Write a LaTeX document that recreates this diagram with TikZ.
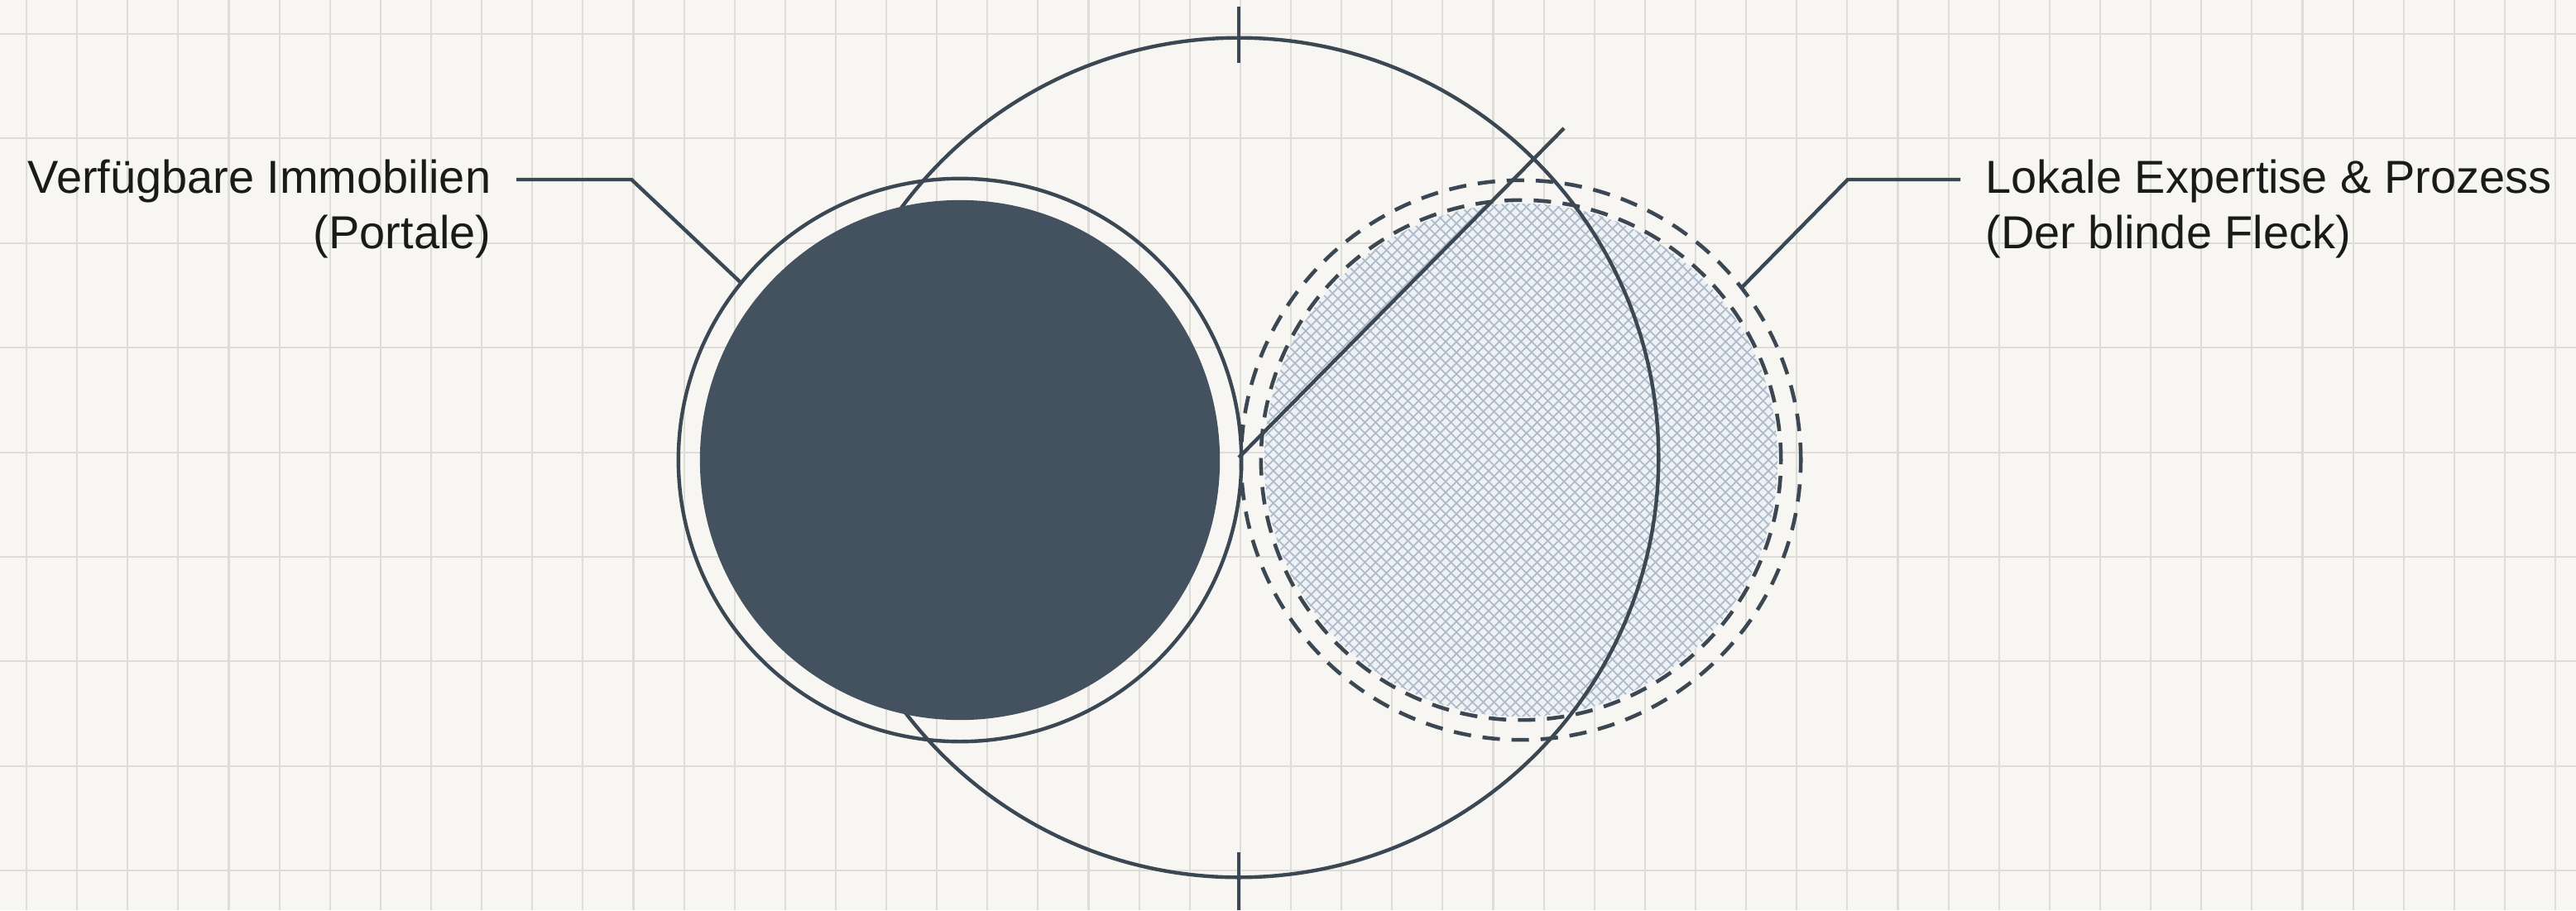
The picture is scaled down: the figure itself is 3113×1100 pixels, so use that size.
\documentclass[tikz,border=0pt]{standalone}
\usepackage{fontspec}
\setmainfont{Liberation Sans}
\usepackage{xcolor}
\usetikzlibrary{positioning,shapes.geometric}

\definecolor{paper}{HTML}{F7F6F2}
\definecolor{gridgrey}{HTML}{DEDCD7}
\definecolor{slate}{HTML}{3B4753}
\definecolor{slatefill}{HTML}{44525F}
\definecolor{hatchbg}{HTML}{EEF2F6}
\definecolor{hatchblue}{HTML}{AEBBC9}
\definecolor{ink}{HTML}{1A1A1A}

\begin{document}
\begin{tikzpicture}[x=0.01cm,y=-0.01cm,
gridline/.style={draw=gridgrey,line width=0.6pt},
ring/.style={circle,draw=slate,line width=1.25pt,inner sep=0pt,outer sep=0pt},
darkdisc/.style={circle,fill=slatefill,inner sep=0pt,outer sep=0pt},
dashring/.style={circle,draw=slate,line width=1.3pt,dash pattern=on 6pt off 4pt,inner sep=0pt,outer sep=0pt},
hatchline/.style={draw=hatchblue,line width=0.5pt},
leader/.style={draw=slate,line width=1.25pt},
tickmark/.style={draw=slate,line width=1.3pt},
note/.style={font=\fontsize{15.9pt}{19pt}\selectfont,text=ink,inner sep=0pt}
]

\fill[paper] (0,0) rectangle (3113,1100);
\useasboundingbox (0,0) rectangle (3113,1100);

\foreach \i in {0,...,50}
  \draw[gridline] (32+61.12*\i,0) -- (32+61.12*\i,1100);
\foreach \j in {0,...,8}
  \draw[gridline] (0,41+126.4*\j) -- (3113,41+126.4*\j);

\coordinate (fleckmitte) at (1838,556);
\begin{scope}
  \clip (fleckmitte) circle[radius=3.1cm];
  \fill[hatchbg] (fleckmitte) circle[radius=3.1cm];
  \foreach \k in {-34,...,34} {
    \draw[hatchline] ([xshift=\k*0.13cm]fleckmitte) ++(-4cm,-4cm) -- ++(8cm,8cm);
    \draw[hatchline] ([xshift=\k*0.13cm]fleckmitte) ++(-4cm,4cm) -- ++(8cm,-8cm);
  }
\end{scope}

\node[ring,minimum size=10.14cm] (gesamt) at (1497,553) {};
\node[darkdisc,minimum size=6.28cm] (portale) at (1160,556) {};
\node[ring,minimum size=6.8cm] (portring) at (portale) {};
\node[dashring,minimum size=6.28cm] (fleckinnen) at (fleckmitte) {};
\node[dashring,minimum size=6.76cm] (fleck) at (fleckmitte) {};

\coordinate (strahl) at (1890,155);
\draw[leader] (gesamt.center) -- (strahl);

\draw[tickmark] ([yshift=0.38cm]gesamt.north) -- ([yshift=-0.3cm]gesamt.north);
\draw[tickmark] ([yshift=0.3cm]gesamt.south) -- ([yshift=-0.4cm]gesamt.south);

\node[note,align=right,anchor=base east] (portlabel) at (594,300) {Verfügbare Immobilien\\(Portale)};
\node[note,align=left,anchor=base west] (flecklabel) at (2399,300) {Lokale Expertise \& Prozess\\(Der blinde Fleck)};

\draw[leader] ([shift={(0.3cm,0.83cm)}]portlabel.base east) -- ++(1.39cm,0) -- (portring.141.6);
\draw[leader] ([shift={(-0.3cm,0.83cm)}]flecklabel.base west) -- ++(-1.36cm,0) -- (fleck.38.3);

\end{tikzpicture}
\end{document}
